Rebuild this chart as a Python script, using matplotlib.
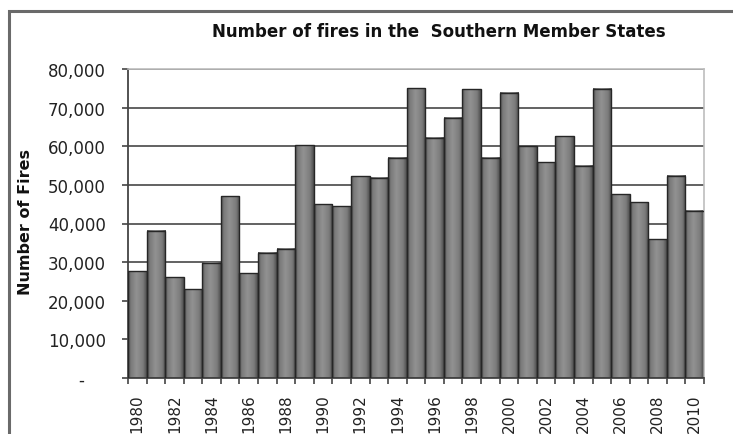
import numpy as np
import matplotlib
matplotlib.use('Agg')
import matplotlib.pyplot as plt
from matplotlib.patches import Rectangle
from matplotlib.colors import LinearSegmentedColormap

years = list(range(1980, 2011))
fires = [27700, 38100, 26100, 23000, 29800, 47100, 27100, 32400, 33400, 60300,
         45000, 44500, 52200, 51800, 57000, 75000, 62200, 67400, 74700, 57000,
         73800, 60000, 55900, 62600, 54900, 74900, 47600, 45500, 35900, 52400,
         43300]
ytick_values = list(range(0, 80001, 10000))
ytick_labels = ['-    '] + [f"{v:,}" for v in ytick_values[1:]]
title = "Number of fires in the  Southern Member States"
ylabel = "Number of Fires"

W, H = 733, 435
fig = plt.figure(figsize=(W / 100, H / 100), dpi=100)
fig.patch.set_facecolor('white')

# outer chart frame
frame = Rectangle((9 / W, -0.1), 1.2, (1 - 12 / H) + 0.1, transform=fig.transFigure,
                  fill=False, ec='#6a6a6a', lw=2.2, clip_on=False)
fig.patches.append(frame)

ax = fig.add_axes([128 / W, 1 - 379 / H, (704 - 128) / W, (379 - 70) / H])

x = np.arange(len(years))
bars = ax.bar(x, fires, width=1.0, color='none', edgecolor='#262626', lw=1.0, zorder=3)

cmap = LinearSegmentedColormap.from_list('barshade', [
    (0.0, '#505050'), (0.15, '#7a7a7a'), (0.45, '#929292'),
    (0.8, '#7c7c7c'), (1.0, '#4c4c4c')])
grad = np.linspace(0, 1, 64).reshape(1, -1)
for p in bars.patches:
    x0, w, h = p.get_x(), p.get_width(), p.get_height()
    ax.imshow(grad, extent=[x0, x0 + w, 0, h], aspect='auto', cmap=cmap,
              vmin=0, vmax=1, zorder=2.5, interpolation='bilinear')

ax.set_xlim(-0.5, len(years) - 0.5)
ax.set_ylim(0, 80000)

# y axis
ax.set_yticks(ytick_values)
ax.set_yticklabels(ytick_labels, fontsize=12, family='DejaVu Sans', color='#222222')
ax.tick_params(axis='y', length=4.5, width=1.2, color='#444444', pad=11.5, direction='out')
ax.set_axisbelow(True)
ax.yaxis.grid(True, color='#555555', lw=1.3)

# x axis: ticks at category boundaries, labels every other year
ax.set_xticks(np.arange(-0.5, len(years), 1.0))
ax.set_xticklabels([])
ax.tick_params(axis='x', which='major', length=4.5, width=1.2, color='#444444', direction='out')
lab_pos = [i for i, yv in enumerate(years) if yv % 2 == 0]
ax.set_xticks(lab_pos, minor=True)
ax.set_xticklabels([str(years[i]) for i in lab_pos], minor=True, rotation=90,
                   fontsize=11, family='DejaVu Sans', color='#222222', va='top')
ax.tick_params(axis='x', which='minor', length=0, pad=11)

for s in ['top', 'right']:
    ax.spines[s].set_color('#bdbdbd')
    ax.spines[s].set_linewidth(1.2)
for s in ['left', 'bottom']:
    ax.spines[s].set_color('#444444')
    ax.spines[s].set_linewidth(1.3)

fig.text(438.5 / W, 1 - 32 / H, title, ha='center', va='center', fontsize=12,
         fontweight='bold', family='DejaVu Sans', color='#111111')
fig.text(26 / W, 1 - 222 / H, ylabel, ha='center', va='center', rotation=90,
         fontsize=11.5, fontweight='bold', family='DejaVu Sans', color='#111111')

fig.savefig('out.png', dpi=100)
